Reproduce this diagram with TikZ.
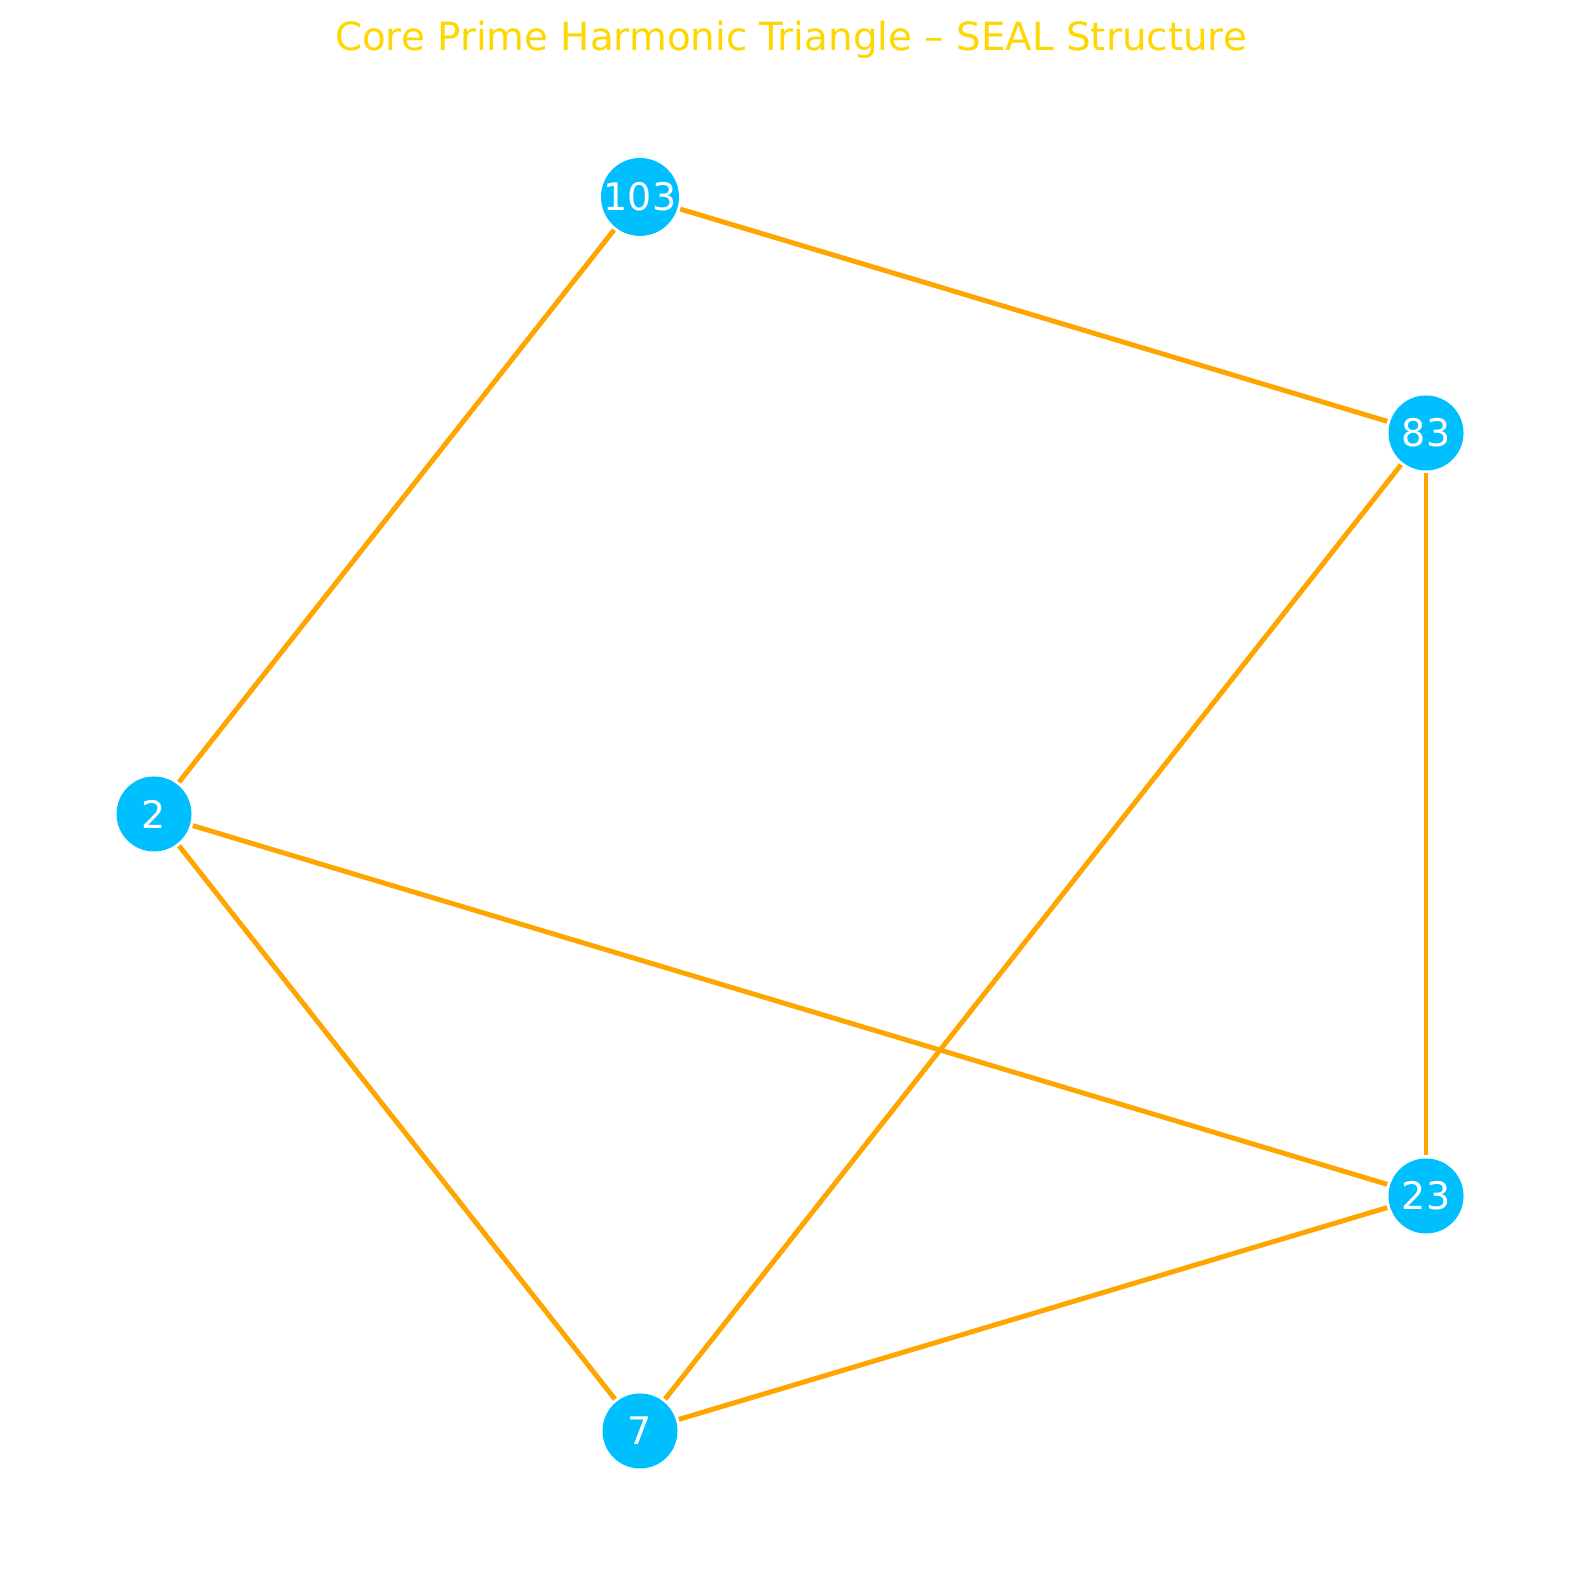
\documentclass[tikz,border=0pt]{standalone}
\usepackage{fontspec}
\setmainfont{DejaVu Sans}
\definecolor{skyfill}{HTML}{00BFFF}
\definecolor{edgeorange}{HTML}{FFA500}
\definecolor{titlegold}{HTML}{FFD700}
\begin{document}
\begin{tikzpicture}[line width=1.4pt,
  prime/.style={circle, fill=skyfill, text=white, minimum size=0.75cm, inner sep=0pt, outer sep=0.03cm, font=\fontsize{10.8pt}{12pt}\selectfont},
  link/.style={draw=edgeorange}]
  \useasboundingbox (0,0) rectangle (15.8,15.8);

  % Prime nodes
  \node[prime] (P103) at (6.40,13.83) {103};
  \node[prime] (P83) at (14.26,11.47) {83};
  \node[prime] (P2) at (1.54,7.66) {2};
  \node[prime] (P23) at (14.26,3.84) {23};
  \node[prime] (P7) at (6.40,1.49) {7};

  % Harmonic edges
  \draw[link] (P103) -- (P83);
  \draw[link] (P103) -- (P2);
  \draw[link] (P2) -- (P23);
  \draw[link] (P2) -- (P7);
  \draw[link] (P83) -- (P7);
  \draw[link] (P83) -- (P23);
  \draw[link] (P7) -- (P23);

  \node[anchor=base, text=titlegold, font=\fontsize{11.05pt}{13pt}\selectfont] (title) at (7.91,15.29) {Core Prime Harmonic Triangle – SEAL Structure};
\end{tikzpicture}
\end{document}
